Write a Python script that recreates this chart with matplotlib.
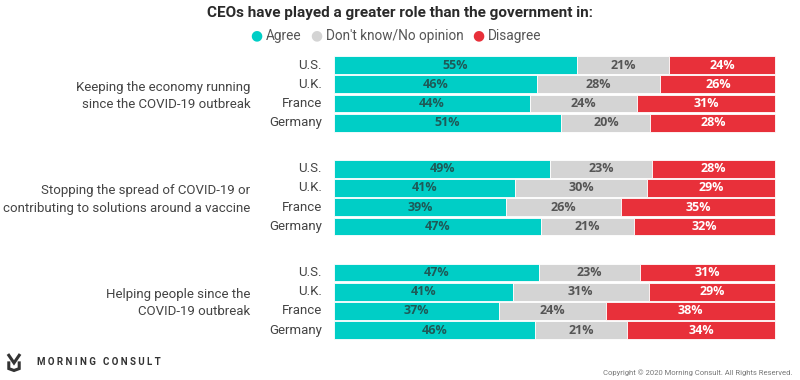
import matplotlib
matplotlib.use("Agg")
import matplotlib.pyplot as plt
from matplotlib.lines import Line2D

plt.rcParams["font.family"] = ["Roboto", "DejaVu Sans"]

TITLE = "CEOs have played a greater role than the government in:"
SERIES = ["Agree", "Don't know/No opinion", "Disagree"]
COLORS = ["#00CEC6", "#D4D4D4", "#E8303A"]
TEXT_COLORS = ["#1E5A58", "#555555", "white"]

GROUPS = ["Keeping the economy running\nsince the COVID-19 outbreak",
          "Stopping the spread of COVID-19 or\ncontributing to solutions around a vaccine",
          "Helping people since the\nCOVID-19 outbreak"]
COUNTRIES = ["U.S.", "U.K.", "France", "Germany"]

agree = [[55, 46, 44, 51], [49, 41, 39, 47], [47, 41, 37, 46]]
dont_know = [[21, 28, 24, 20], [23, 30, 26, 21], [23, 31, 24, 21]]
disagree = [[24, 26, 31, 28], [28, 29, 35, 32], [31, 29, 38, 34]]

GROUP_STEP = 5.4

fig = plt.figure(figsize=(8, 3.8), dpi=100)
ax = fig.add_axes([0.4175, 0.106, 0.5515, 0.748])

for g in range(len(GROUPS)):
    for r in range(len(COUNTRIES)):
        y = g * GROUP_STEP + r
        vals = [agree[g][r], dont_know[g][r], disagree[g][r]]
        total = sum(vals)  # bars are drawn as full-width 100% stacks
        left = 0
        for k, v in enumerate(vals):
            w = v * 100 / total
            ax.barh(y, w, left=left, height=0.92, color=COLORS[k],
                    edgecolor="white", linewidth=0.6, clip_on=False)
            ax.text(left + w / 2, y, f"{v}%", ha="center", va="center",
                    fontsize=9, fontweight="bold", color=TEXT_COLORS[k],
                    family=["Open Sans", "DejaVu Sans"])
            left += w
        ax.text(-2.7, y, COUNTRIES[r], ha="right", va="center",
                fontsize=9.5, color="#444444")
    ax.text(-19.0, g * GROUP_STEP + 1.6, GROUPS[g], ha="right", va="center",
            fontsize=9.5, color="#444444", linespacing=1.45)

ax.set_xlim(0, 100)
ax.set_ylim(2 * GROUP_STEP + 3.5, -0.5)
ax.axis("off")

fig.text(0.5, 0.965, TITLE, ha="center", va="center", fontsize=11,
         fontweight="bold", color="#2a2a2a")

# legend
leg_x = [0.32, 0.395, 0.5975]
for k, name in enumerate(SERIES):
    fig.text(leg_x[k], 0.908, "\u25CF", ha="center", va="center", fontsize=10,
             color=COLORS[k], family="DejaVu Sans")
    fig.text(leg_x[k] + 0.0125, 0.906, name, ha="left", va="center",
             fontsize=9.8, color="#555555")

# footer logo (rough chevron mark) + wordmark
logo = [([0.011, 0.0175, 0.024], [0.065, 0.045, 0.065]),
        ([0.011, 0.011, 0.0175, 0.024, 0.024], [0.045, 0.03, 0.025, 0.03, 0.045])]
for xs, ys in logo:
    fig.add_artist(Line2D(xs, ys, color="#333333", linewidth=2.2,
                          solid_joinstyle="miter"))
fig.text(0.046, 0.048, "M O R N I N G   C O N S U L T", ha="left", va="center",
         fontsize=7.0, fontweight="bold", color="#333333")
fig.text(0.99, 0.02, "Copyright \u00a9 2020 Morning Consult. All Rights Reserved.",
         ha="right", va="center", fontsize=5.5, color="#777777")

fig.savefig("out.png", dpi=100)
